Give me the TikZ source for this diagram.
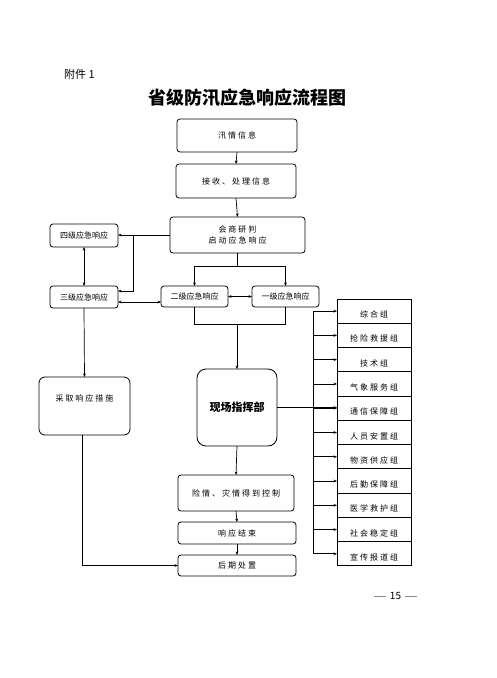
\documentclass[tikz,border=0pt]{standalone}
\usepackage{fontspec}
\usetikzlibrary{arrows.meta,calc}
\newfontfamily\cjk{Noto Sans CJK SC}
\newfontfamily\cjksp[LetterSpace=25]{Noto Sans CJK SC}
\begin{document}
\begin{tikzpicture}[x=1pt,y=-1pt,
  box/.style={draw, line width=0.8pt, rounded corners=3pt, inner sep=0pt, outer sep=0pt,
    align=center, font=\cjksp\fontsize{8}{11}\selectfont},
  tbox/.style={box, font=\cjk\fontsize{8}{11}\selectfont},
  grp/.style={draw, line width=1pt, inner sep=0pt, outer sep=0pt, minimum width=74pt, minimum height=24.27pt},
  gtxt/.style={inner sep=0pt, font=\cjksp\fontsize{8}{10}\selectfont},
  ln/.style={line width=0.7pt},
  arr/.style={ln, -{Stealth[length=3.5pt,width=2.8pt]}},
  darr/.style={ln, {Stealth[length=3.5pt,width=2.8pt]}-{Stealth[length=3.5pt,width=2.8pt]}}
]
\useasboundingbox (0,0) rectangle (496,678);

% header
\node[anchor=west, inner sep=0pt, font=\cjk\fontsize{11}{12}\selectfont] (att) at (64,74) {附件 1};
\node[inner sep=0pt, font=\cjk\bfseries\fontsize{18}{20}\selectfont] (title) at (247.5,98) {省级防汛应急响应流程图};

% main column
\node[box, minimum width=120pt, minimum height=33pt] (info) at (237,135.5) {汛情信息};
\node[box, minimum width=120pt, minimum height=34pt] (recv) at (236,181) {接收、处理信息};
\node[box, minimum width=135pt, minimum height=36pt] (meet) at (237.5,235) {会商研判\\启动应急响应};
\node[tbox, minimum width=68pt, minimum height=23pt] (four) at (84,235.5) {四级应急响应};
\node[tbox, minimum width=68pt, minimum height=22pt] (three) at (84,297) {三级应急响应};
\node[tbox, minimum width=67pt, minimum height=21pt] (two) at (194.5,296.5) {二级应急响应};
\node[tbox, minimum width=67pt, minimum height=21pt] (one) at (285.5,296.5) {一级应急响应};
\node[box, rounded corners=9pt, minimum width=80pt, minimum height=77pt,
  font=\cjk\bfseries\fontsize{11}{12}\selectfont] (cmd) at (237,407.5) {现场指挥部};
\node[box, rounded corners=6pt, minimum width=91pt, minimum height=58pt] (measure) at (84.5,406) {};
\node[gtxt] (measuretxt) at ($(measure.north)+(0,21)$) {采取响应措施};
\node[box, minimum width=116pt, minimum height=36pt] (ctrl) at (236,493) {险情、灾情得到控制};
\node[box, minimum width=118pt, minimum height=22pt] (fin) at (237,533) {响应结束};
\node[box, minimum width=118pt, minimum height=21pt] (post) at (237,565.5) {后期处置};

% right column groups
\foreach \t [count=\i] in {综合组,抢险救援组,技术组,气象服务组,通信保障组,人员安置组,物资供应组,后勤保障组,医学救护组,社会稳定组,宣传报道组}{
  \node[grp] (g\i) at (374,{299+24.27*(\i-0.5)}) {};
  \node[gtxt] (gt\i) at ($(g\i.center)+(0,3.5)$) {\t};
}
\coordinate (busx) at (313,0);
\draw[ln] (g1.west -| busx) -- (g11.west -| busx);
\foreach \i in {1,...,11}{
  \draw[arr] (g\i.west -| busx) -- (g\i.west);
}
\draw[arr] (cmd.east) -- (cmd.east -| g5.west);

% connectors
\draw[arr] (info.south) -- (recv.north);
\draw[arr] (recv.south) -- (meet.north);
\draw[arr] (meet.west) -- (meet.west -| four.east);
\coordinate (j1) at (133,235);
\coordinate (t3a) at ($(three.east)+(0,-6)$);
\draw[arr] (j1) |- (t3a);
\draw[darr] (four.south) -- (three.north);
\coordinate (t3b) at ($(three.east)+(0,5)$);
\draw[darr] (t3b) -- (t3b -| two.west);
\draw[darr] (two.east) -- (one.west);
\coordinate (j2) at (237.5,266);
\draw[ln] (meet.south) -- (j2);
\draw[arr] (j2) -| (two.north);
\draw[arr] (j2) -| (one.north);
\coordinate (j3) at (237,324);
\draw[ln] (two.south) |- (j3);
\draw[ln] (one.south) |- (j3);
\draw[arr] (j3) -- (cmd.north);
\draw[arr] (three.south) -- (measure.north);
\coordinate (m1) at ($(measure.south)+(-2.5,0)$);
\draw[arr] (m1) |- (post.west);
\draw[arr] (cmd.south) -- (ctrl.north);
\draw[arr] (ctrl.south) -- (fin.north);
\draw[arr] (fin.south) -- (post.north);

% page number
\node[inner sep=0pt, font=\cjk\fontsize{10}{11}\selectfont] (pg) at (395.5,596)
  {{\color{black!45}\rule[3pt]{12pt}{0.8pt}}\hspace{4pt}15\hspace{4pt}{\color{black!45}\rule[3pt]{12pt}{0.8pt}}};
\end{tikzpicture}
\end{document}
